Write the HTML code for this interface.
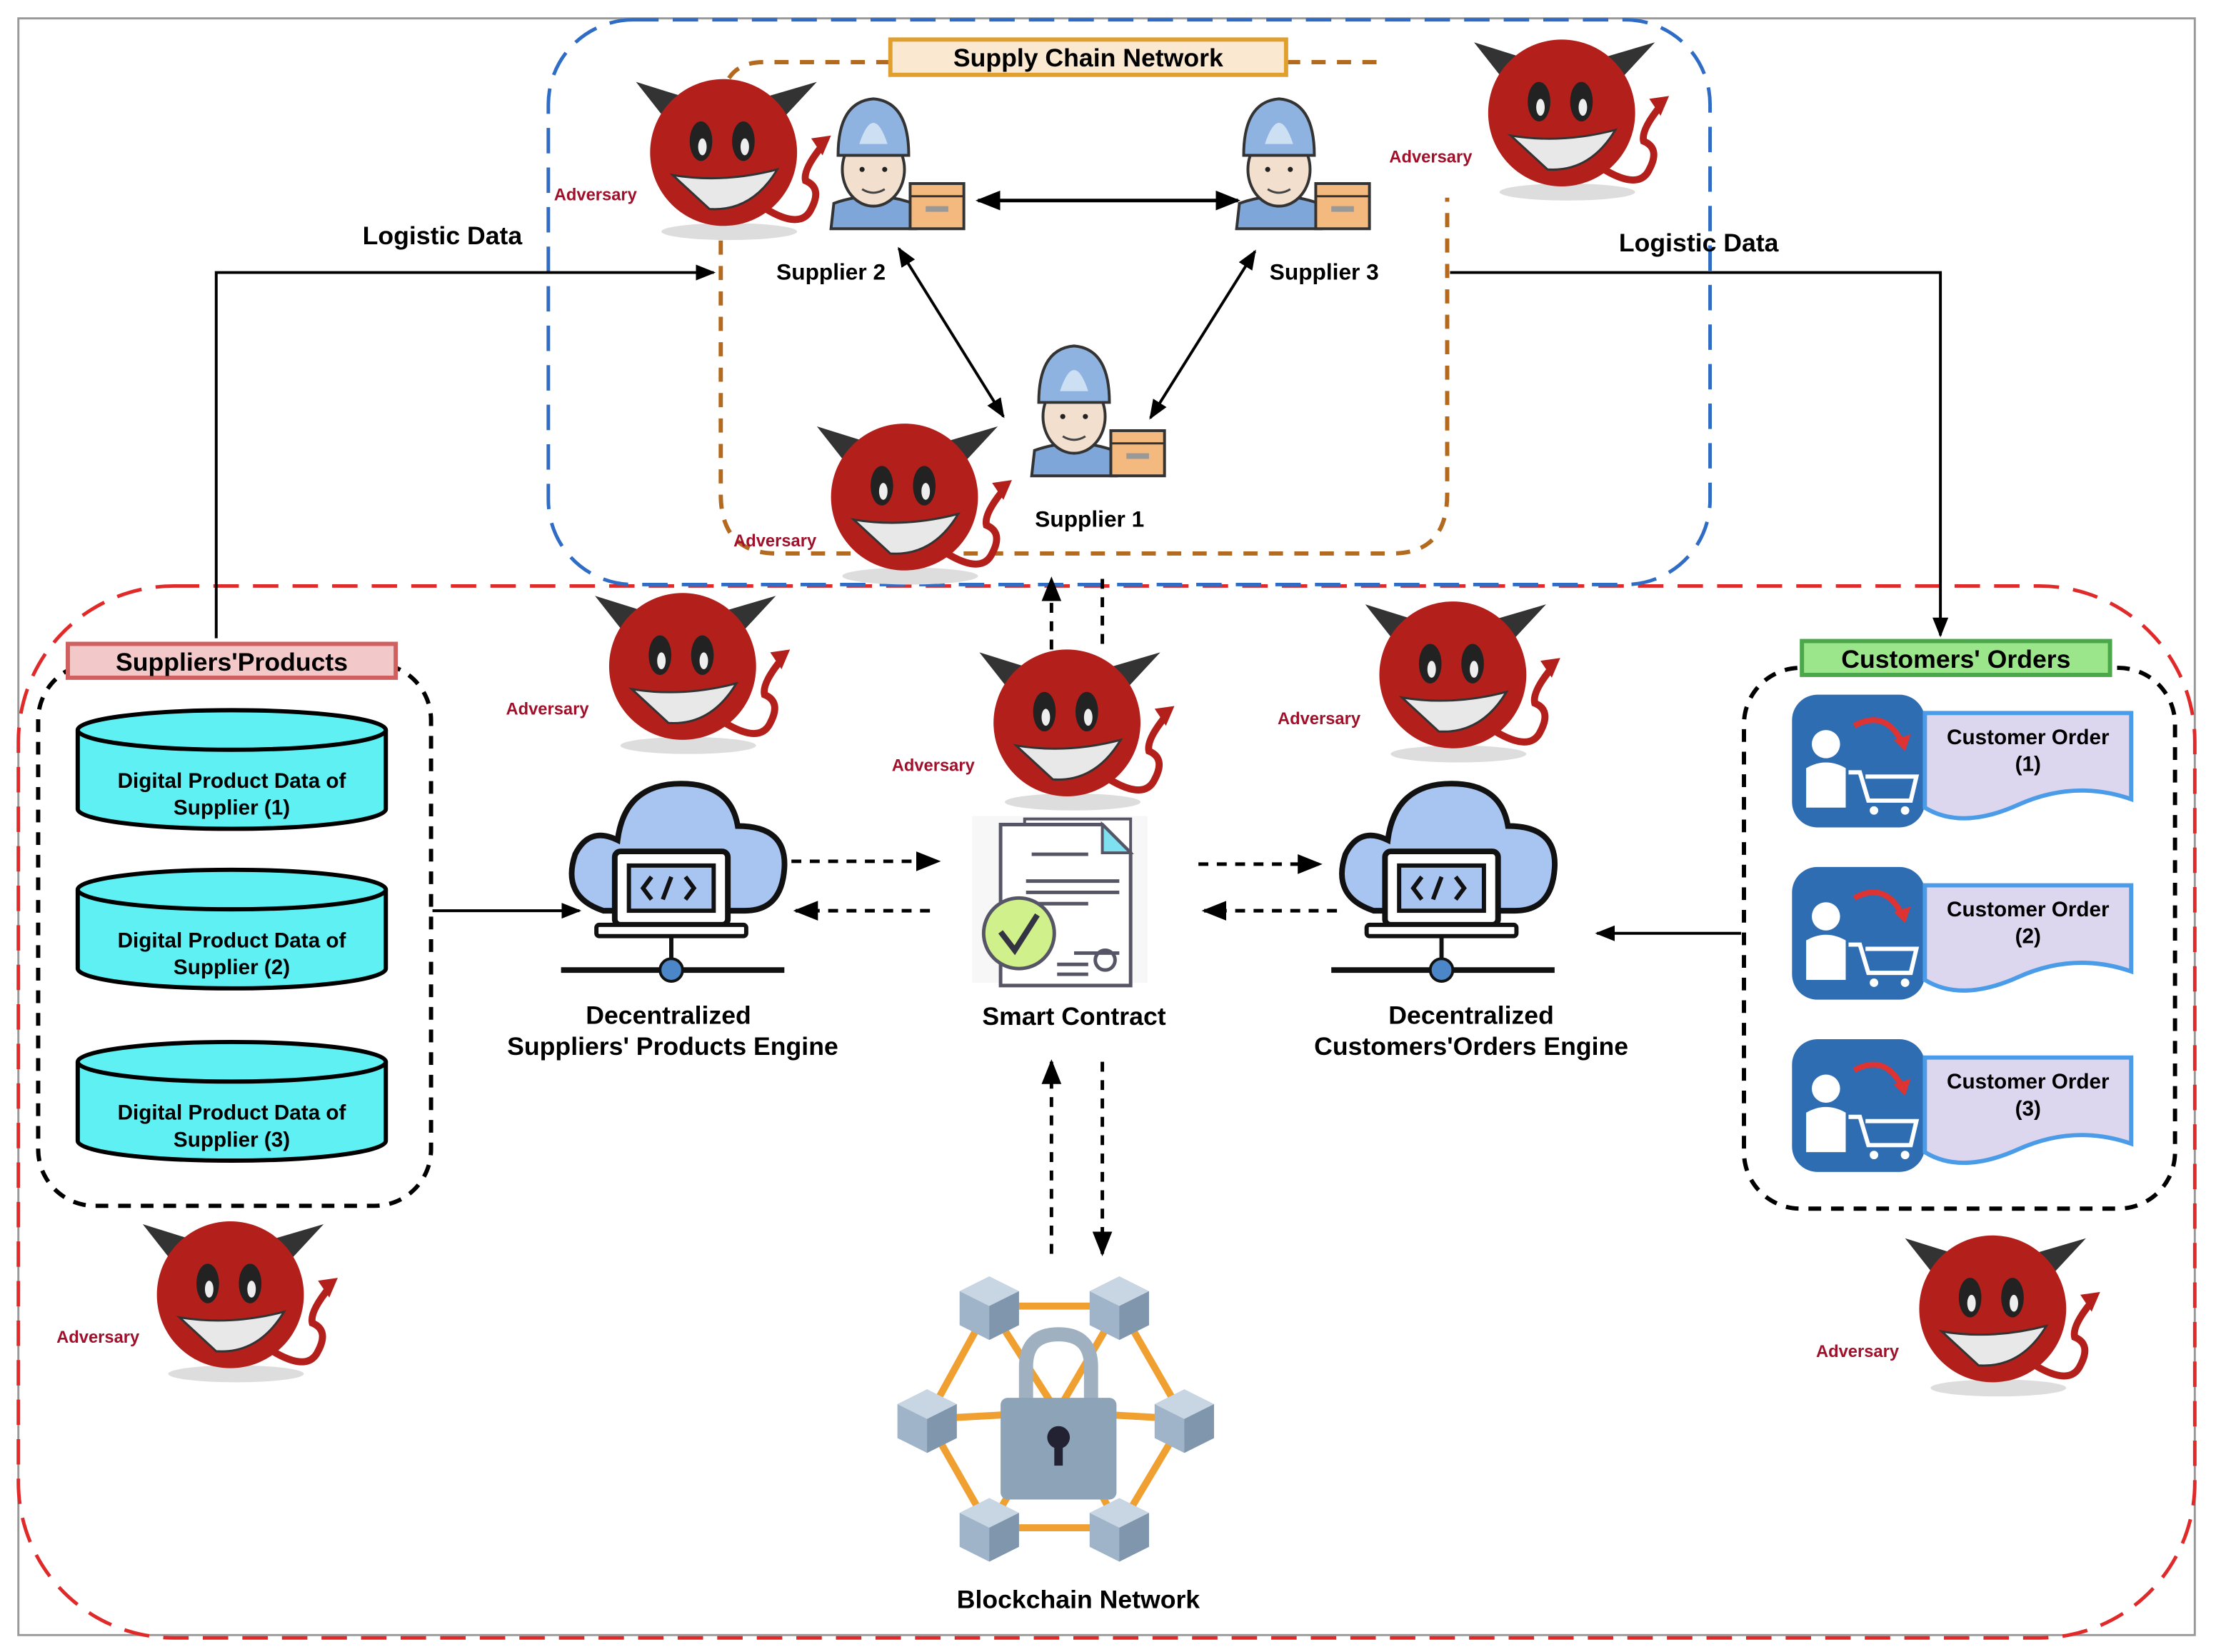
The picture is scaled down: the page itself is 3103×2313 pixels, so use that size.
<!DOCTYPE html>
<html><head><meta charset="utf-8"><style>
html,body{margin:0;padding:0;background:#fff;}
svg{display:block;}
text{font-family:"Liberation Sans",sans-serif;font-weight:bold;}
</style></head><body>
<svg width="3103" height="2313" viewBox="0 0 1568 1170" preserveAspectRatio="none" xmlns="http://www.w3.org/2000/svg">
<defs>
<marker id="ah" viewBox="0 0 10 10" refX="9" refY="5" markerWidth="7" markerHeight="7" orient="auto-start-reverse"><path d="M0,1 L10,5 L0,9 Z" fill="#000"/></marker>
<g id="devil">
<ellipse cx="4" cy="56" rx="48" ry="6" fill="#ddd"/>
<path d="M-40,-22 L-62,-50 L-30,-40 Z" fill="#333"/>
<path d="M40,-22 L66,-50 L32,-40 Z" fill="#333"/>
<path d="M30,40 Q55,55 62,40 Q70,25 58,20 Q56,12 70,-5" stroke="#b3201b" stroke-width="5" fill="none"/>
<path d="M62,-10 L76,-12 L70,2 Z" fill="#b3201b"/>
<ellipse cx="0" cy="0" rx="52" ry="52" fill="#b3201b"/>
<ellipse cx="-16" cy="-8" rx="8" ry="14" fill="#222"/>
<ellipse cx="14" cy="-8" rx="8" ry="14" fill="#222"/>
<ellipse cx="-15" cy="-4" rx="3" ry="6" fill="#eee"/>
<ellipse cx="15" cy="-4" rx="3" ry="6" fill="#eee"/>
<path d="M-36,16 Q0,22 38,12 Q20,42 -10,40 Z" fill="#e8e8e8" stroke="#333" stroke-width="1.5"/>
</g>
<g id="sup">
<path d="M-30,50 L-28,32 Q0,22 28,32 L30,50 Z" fill="#7fa6d8" stroke="#333" stroke-width="2"/>
<ellipse cx="0" cy="8" rx="22" ry="26" fill="#f2dfcd" stroke="#333" stroke-width="2"/>
<path d="M-25,-2 Q-25,-40 0,-42 Q25,-40 25,-2 Z" fill="#8fb3e0" stroke="#333" stroke-width="2"/>
<path d="M-10,-10 Q0,-40 10,-10 Z" fill="#cde0f3"/>
<circle cx="-8" cy="8" r="1.8" fill="#222"/><circle cx="8" cy="8" r="1.8" fill="#222"/>
<path d="M-8,22 Q0,27 8,22" stroke="#444" fill="none" stroke-width="1.5"/>
<rect x="26" y="18" width="38" height="32" fill="#f4b97f" stroke="#333" stroke-width="2"/>
<line x1="26" y1="27" x2="64" y2="27" stroke="#333" stroke-width="1.5"/>
<rect x="37" y="34" width="16" height="4" fill="#999"/>
</g>
<g id="cyl">
<path d="M0,0 L0,56 A109,14 0 0 0 218,56 L218,0" fill="#5ef0f2" stroke="#000" stroke-width="3"/>
<ellipse cx="109" cy="0" rx="109" ry="14" fill="#5ef0f2" stroke="#000" stroke-width="3"/>
</g>
<g id="eng">
<path d="M-50,20 Q-80,10 -70,-20 Q-60,-40 -40,-30 Q-35,-70 5,-70 Q40,-70 45,-40 Q80,-40 78,-10 Q76,20 50,20 Z" fill="#a8c4f0" stroke="#111" stroke-width="4"/>
<rect x="-42" y="-22" width="80" height="52" rx="4" fill="#fff" stroke="#111" stroke-width="4"/>
<rect x="-32" y="-12" width="60" height="32" fill="#a8c4f0" stroke="#111" stroke-width="3"/>
<path d="M-16,-4 L-22,4 L-16,12 M-8,12 L-2,-4 M8,-4 L14,4 L8,12" stroke="#111" stroke-width="3" fill="none"/>
<rect x="-55" y="30" width="106" height="8" rx="2" fill="#fff" stroke="#111" stroke-width="3"/>
<line x1="-2" y1="38" x2="-2" y2="60" stroke="#111" stroke-width="3"/>
<line x1="-80" y1="62" x2="78" y2="62" stroke="#111" stroke-width="4"/>
<circle cx="-2" cy="62" r="8" fill="#4a86c8" stroke="#111" stroke-width="2"/>
</g>
<g id="ord">
<rect x="0" y="0" width="94" height="94" rx="18" fill="#2f6db3"/>
<circle cx="24" cy="35" r="10" fill="#fff"/>
<path d="M10,80 L10,52 Q24,44 38,52 L38,80 Z" fill="#fff"/>
<path d="M40,55 L48,55 L54,75 L84,75 L88,58 L52,58" stroke="#fff" stroke-width="3" fill="none"/>
<circle cx="58" cy="82" r="3" fill="#fff"/><circle cx="80" cy="82" r="3" fill="#fff"/>
<path d="M44,22 Q66,10 78,34" stroke="#d33" stroke-width="4" fill="none"/>
<path d="M72,32 L80,40 L84,28 Z" fill="#d33"/>
<path d="M94,13 L240,13 L240,74 Q200,60 160,78 Q120,96 94,80 Z" fill="#dcd6ee" stroke="#4a9be8" stroke-width="3"/>
</g>
<g id="cube"><g transform="scale(1.5)"><path d="M0,-14 L14,-7 L14,9 L0,16 L-14,9 L-14,-7 Z" fill="#9fb4c8"/><path d="M0,-14 L14,-7 L0,0 L-14,-7 Z" fill="#c8d6e3"/><path d="M0,0 L14,-7 L14,9 L0,16 Z" fill="#7f96ad"/></g></g>
</defs>

<rect x="13" y="13" width="1540" height="1145" fill="none" stroke="#999" stroke-width="1.5"/>

<rect x="13" y="415" width="1540" height="745" rx="110" fill="none" stroke="#e02a2a" stroke-width="2.5" stroke-dasharray="18,10"/>
<rect x="388" y="14" width="822" height="400" rx="60" fill="none" stroke="#2f6cc6" stroke-width="2.5" stroke-dasharray="18,10"/>
<path d="M630,44 L540,44 Q510,44 510,80 L510,350 Q510,392 550,392 L985,392 Q1024,392 1024,350 L1024,140 M910,44 L975,44" fill="none" stroke="#b36a1e" stroke-width="3" stroke-dasharray="10,8"/>
<rect x="630" y="28" width="280" height="25" fill="#fbe8d0" stroke="#e0a030" stroke-width="3"/>
<text x="770" y="47" font-size="18" text-anchor="middle">Supply Chain Network</text>

<path d="M153,452 L153,193 L505,193" fill="none" stroke="#000" stroke-width="2" marker-end="url(#ah)"/>
<text x="313" y="173" font-size="18" text-anchor="middle">Logistic Data</text>
<path d="M1026,193 L1373,193 L1373,450" fill="none" stroke="#000" stroke-width="2" marker-end="url(#ah)"/>
<text x="1202" y="178" font-size="18" text-anchor="middle">Logistic Data</text>

<line x1="692" y1="142" x2="876" y2="142" stroke="#000" stroke-width="2.5" marker-start="url(#ah)" marker-end="url(#ah)"/>
<line x1="636" y1="176" x2="710" y2="295" stroke="#000" stroke-width="2" marker-start="url(#ah)" marker-end="url(#ah)"/>
<line x1="888" y1="178" x2="814" y2="296" stroke="#000" stroke-width="2" marker-start="url(#ah)" marker-end="url(#ah)"/>

<use href="#sup" x="618" y="112"/>
<use href="#sup" x="905" y="112"/>
<use href="#sup" x="760" y="287"/>
<text x="588" y="198" font-size="16" text-anchor="middle">Supplier 2</text>
<text x="937" y="198" font-size="16" text-anchor="middle">Supplier 3</text>
<text x="771" y="373" font-size="16" text-anchor="middle">Supplier 1</text>

<use href="#devil" x="512" y="108"/>
<use href="#devil" x="1105" y="80"/>
<use href="#devil" x="640" y="352"/>
<use href="#devil" x="483" y="472"/>
<use href="#devil" x="755" y="512"/>
<use href="#devil" x="1028" y="478"/>
<use href="#devil" x="163" y="917"/>
<use href="#devil" x="1410" y="927"/>
<g font-size="12" fill="#a0102a">
<text x="392" y="142">Adversary</text>
<text x="983" y="115">Adversary</text>
<text x="519" y="387">Adversary</text>
<text x="358" y="506">Adversary</text>
<text x="631" y="546">Adversary</text>
<text x="904" y="513">Adversary</text>
<text x="40" y="951">Adversary</text>
<text x="1285" y="961">Adversary</text>
</g>

<rect x="27" y="470" width="278" height="384" rx="40" fill="none" stroke="#000" stroke-width="3" stroke-dasharray="9,7"/>
<rect x="48" y="456" width="232" height="24" fill="#f3c8c8" stroke="#d06060" stroke-width="3"/>
<text x="164" y="475" font-size="18" text-anchor="middle">Suppliers'Products</text>
<use href="#cyl" x="55" y="517"/>
<use href="#cyl" x="55" y="630"/>
<use href="#cyl" x="55" y="752"/>
<g font-size="15" text-anchor="middle">
<text x="164" y="558">Digital Product Data of</text><text x="164" y="577">Supplier (1)</text>
<text x="164" y="671">Digital Product Data of</text><text x="164" y="690">Supplier (2)</text>
<text x="164" y="793">Digital Product Data of</text><text x="164" y="812">Supplier (3)</text>
</g>

<rect x="1234" y="473" width="305" height="383" rx="40" fill="none" stroke="#000" stroke-width="3" stroke-dasharray="9,7"/>
<rect x="1275" y="454" width="218" height="24" fill="#9be58a" stroke="#4aa84a" stroke-width="3"/>
<text x="1384" y="473" font-size="18" text-anchor="middle">Customers' Orders</text>
<use href="#ord" x="1268" y="492"/>
<use href="#ord" x="1268" y="614"/>
<use href="#ord" x="1268" y="736"/>
<g font-size="15" text-anchor="middle">
<text x="1435" y="527">Customer Order</text><text x="1435" y="546">(1)</text>
<text x="1435" y="649">Customer Order</text><text x="1435" y="668">(2)</text>
<text x="1435" y="771">Customer Order</text><text x="1435" y="790">(3)</text>
</g>

<use href="#eng" x="477" y="625"/>
<use href="#eng" x="1022" y="625"/>
<g font-size="18" text-anchor="middle">
<text x="473" y="725">Decentralized</text><text x="476" y="747">Suppliers' Products Engine</text>
<text x="1041" y="725">Decentralized</text><text x="1041" y="747">Customers'Orders Engine</text>
<text x="760" y="726">Smart Contract</text>
<text x="763" y="1139">Blockchain Network</text>
</g>

<rect x="688" y="578" width="124" height="118" fill="#f7f7f7"/>
<path d="M725,580 L800,580 L800,690 L725,690 Z" fill="#fff" stroke="#556" stroke-width="2"/>
<path d="M708,584 L780,584 L800,604 L800,698 L708,698 Z" fill="#fff" stroke="#556" stroke-width="2.5"/>
<path d="M780,584 L780,604 L800,604 Z" fill="#7fe0ef" stroke="#556" stroke-width="2"/>
<g stroke="#556" stroke-width="2.5"><line x1="730" y1="605" x2="770" y2="605"/><line x1="726" y1="624" x2="792" y2="624"/><line x1="726" y1="632" x2="792" y2="632"/><line x1="726" y1="640" x2="770" y2="640"/><line x1="760" y1="675" x2="792" y2="675"/><line x1="748" y1="683" x2="770" y2="683"/><line x1="748" y1="690" x2="770" y2="690"/></g>
<circle cx="782" cy="680" r="7" fill="none" stroke="#556" stroke-width="2.5"/>
<circle cx="721" cy="661" r="25" fill="#cff08a" stroke="#556" stroke-width="2.5"/>
<path d="M708,660 L718,673 L734,648" stroke="#334" stroke-width="4" fill="none"/>

<g stroke="#000" stroke-width="2.5" stroke-dasharray="7,6" fill="none">
<line x1="560" y1="610" x2="664" y2="610" marker-end="url(#ah)"/>
<line x1="658" y1="645" x2="563" y2="645" marker-end="url(#ah)"/>
<line x1="848" y1="612" x2="934" y2="612" marker-end="url(#ah)"/>
<line x1="946" y1="645" x2="852" y2="645" marker-end="url(#ah)"/>
<line x1="744" y1="460" x2="744" y2="410" marker-end="url(#ah)"/>
<line x1="780" y1="410" x2="780" y2="460"/>
<line x1="744" y1="888" x2="744" y2="752" marker-end="url(#ah)"/>
<line x1="780" y1="752" x2="780" y2="888" marker-end="url(#ah)"/>
</g>
<line x1="306" y1="645" x2="410" y2="645" stroke="#000" stroke-width="2" marker-end="url(#ah)"/>
<line x1="1232" y1="661" x2="1130" y2="661" stroke="#000" stroke-width="2" marker-end="url(#ah)"/>

<g stroke="#f0a030" stroke-width="5" fill="none">
<polygon points="700,925 792,925 838,1005 792,1082 700,1082 656,1005"/>
<line x1="700" y1="925" x2="748" y2="1000"/><line x1="792" y1="925" x2="748" y2="1000"/>
<line x1="838" y1="1005" x2="748" y2="1000"/><line x1="656" y1="1005" x2="748" y2="1000"/>
<line x1="700" y1="1082" x2="748" y2="1000"/><line x1="792" y1="1082" x2="748" y2="1000"/>
</g>
<use href="#cube" x="700" y="925"/><use href="#cube" x="792" y="925"/>
<use href="#cube" x="838" y="1005"/><use href="#cube" x="656" y="1005"/>
<use href="#cube" x="700" y="1082"/><use href="#cube" x="792" y="1082"/>
<path d="M726,992 L726,968 Q726,945 749,945 Q772,945 772,968 L772,992" stroke="#9fb0c0" stroke-width="10" fill="none"/>
<rect x="708" y="990" width="82" height="72" rx="5" fill="#8da3b8"/>
<circle cx="749" cy="1018" r="8" fill="#223"/>
<rect x="746" y="1018" width="6" height="20" fill="#223"/>
</svg>
</body></html>
